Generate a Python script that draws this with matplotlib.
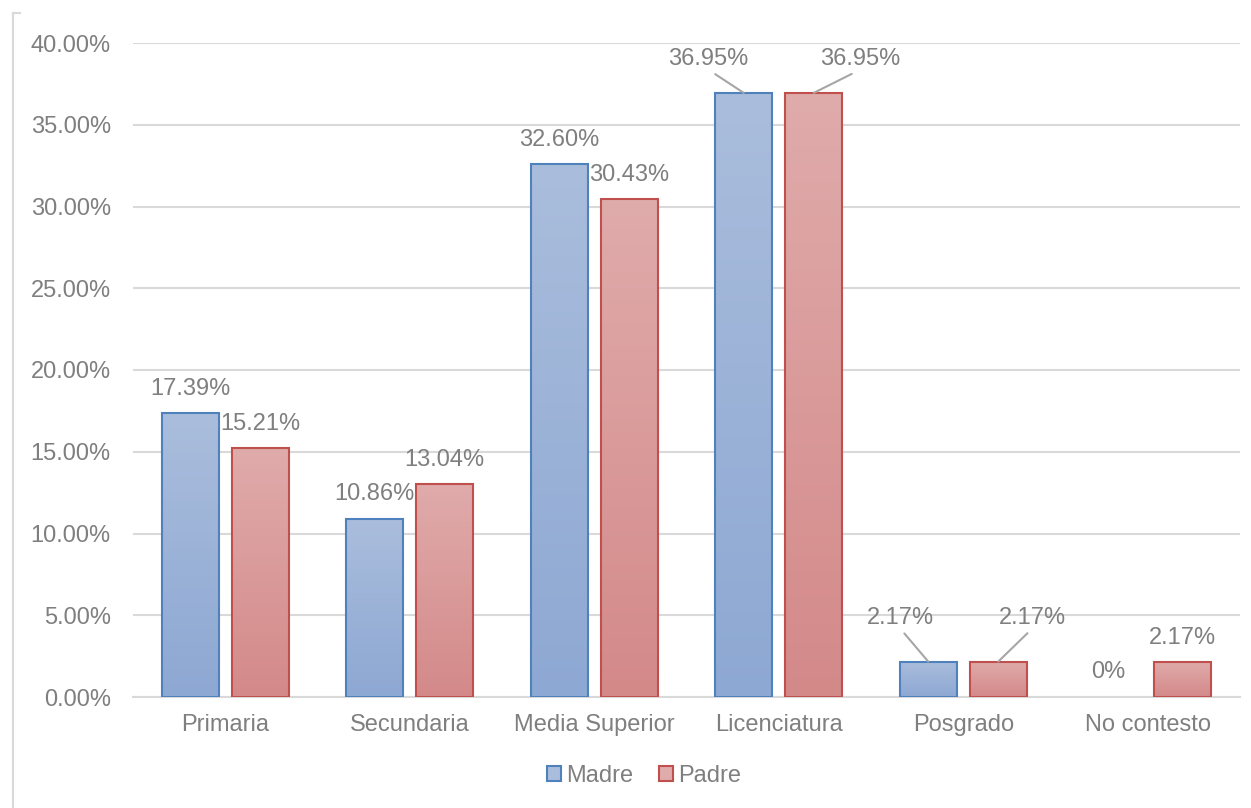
import numpy as np
import matplotlib
matplotlib.use('Agg')
import matplotlib.pyplot as plt
from matplotlib.colors import LinearSegmentedColormap
from matplotlib.lines import Line2D
from matplotlib.patches import Patch

plt.rcParams['font.family'] = ['Liberation Sans', 'DejaVu Sans']

categorias = ['Primaria', 'Secundaria', 'Media Superior', 'Licenciatura', 'Posgrado', 'No contesto']
madre = [0.1739, 0.1086, 0.3260, 0.3695, 0.0217, 0.0]
padre = [0.1521, 0.1304, 0.3043, 0.3695, 0.0217, 0.0217]
etq_madre = ['17.39%', '10.86%', '32.60%', '36.95%', '2.17%', '0%']
etq_padre = ['15.21%', '13.04%', '30.43%', '36.95%', '2.17%', '2.17%']
yticks = [0.0, 0.05, 0.10, 0.15, 0.20, 0.25, 0.30, 0.35, 0.40]

# label offsets (pixels) from bar top; (dx, dy, leader line)
off_madre = [(0, 24, False), (0, 25, False), (0, 24, False), (-35, 34, True), (-28, 44, True), (-4, 25, False)]
off_padre = [(0, 24, False), (0, 24, False), (0, 24, False), (46, 34, True), (34, 44, True), (0, 24, False)]

GRIS = '#7F7F7F'
series = [
    (madre, etq_madre, off_madre, -0.19, '#AABDDC', '#8DA8D3', '#4F81BD', 'Madre'),
    (padre, etq_padre, off_padre, 0.19, '#E0ABAB', '#D48989', '#C0504D', 'Padre'),
]
ancho = 0.31

fig = plt.figure(figsize=(12.51, 8.08), dpi=100)
ax = fig.add_axes([133 / 1251, 1 - 697 / 808, 1107 / 1251, 654 / 808])

x = np.arange(len(categorias))
grad = np.linspace(0, 1, 256).reshape(-1, 1)

for vals, etqs, offs, dx, c_top, c_bot, c_edge, nombre in series:
    cmap = LinearSegmentedColormap.from_list(nombre, [c_bot, c_top])
    for xi, v, t, (ox, oy, leader) in zip(x, vals, etqs, offs):
        xc = xi + dx
        if v > 0:
            ax.imshow(grad, extent=[xc - ancho / 2, xc + ancho / 2, 0, v], origin='lower',
                      cmap=cmap, aspect='auto', zorder=2)
            ax.bar(xc, v, ancho, facecolor='none', edgecolor=c_edge, linewidth=1.5, zorder=3)
        if leader:
            ax.annotate(t, xy=(xc, v), xytext=(ox, oy), textcoords='offset pixels',
                        ha='center', va='center', fontsize=17, color=GRIS,
                        arrowprops=dict(arrowstyle='-', color='#A6A6A6', lw=1.5,
                                        relpos=(0.5, 0.0), shrinkA=2, shrinkB=0))
        else:
            ax.annotate(t, xy=(xc, v), xytext=(ox, oy), textcoords='offset pixels',
                        ha='center', va='center', fontsize=17, color=GRIS)

ax.set_xlim(-0.5, len(categorias) - 0.5)
ax.set_ylim(0, 0.4)
ax.set_yticks(yticks)
ax.set_yticklabels(['%.2f%%' % (v * 100) for v in yticks])
ax.set_xticks(x)
ax.set_xticklabels(categorias)
ax.tick_params(axis='y', length=0, pad=16, labelsize=17, labelcolor=GRIS)
ax.tick_params(axis='x', length=0, pad=12, labelsize=17, labelcolor=GRIS)
ax.grid(axis='y', color='#D9D9D9', linewidth=1.5, zorder=0)
ax.set_axisbelow(True)
for s in ['top', 'right', 'left']:
    ax.spines[s].set_visible(False)
ax.spines['bottom'].set_color('#D9D9D9')
ax.spines['bottom'].set_linewidth(1.5)

handles = [Patch(facecolor=s[4], edgecolor=s[6], linewidth=1.5, label=s[7]) for s in series]
fig.legend(handles=handles, loc='center', bbox_to_anchor=(644 / 1251, 1 - 776 / 808), ncol=2,
           frameon=False, fontsize=17, labelcolor=GRIS, handlelength=0.6, handleheight=0.6,
           handletextpad=0.2, columnspacing=1.1)

# chart frame (partly visible)
fig.add_artist(Line2D([13 / 1251, 13 / 1251], [0, 1 - 13 / 808], color='#D9D9D9', lw=1.5))
fig.add_artist(Line2D([13 / 1251, 20 / 1251], [1 - 13 / 808, 1 - 13 / 808], color='#D9D9D9', lw=1.5))

fig.savefig('out.png', dpi=100)
